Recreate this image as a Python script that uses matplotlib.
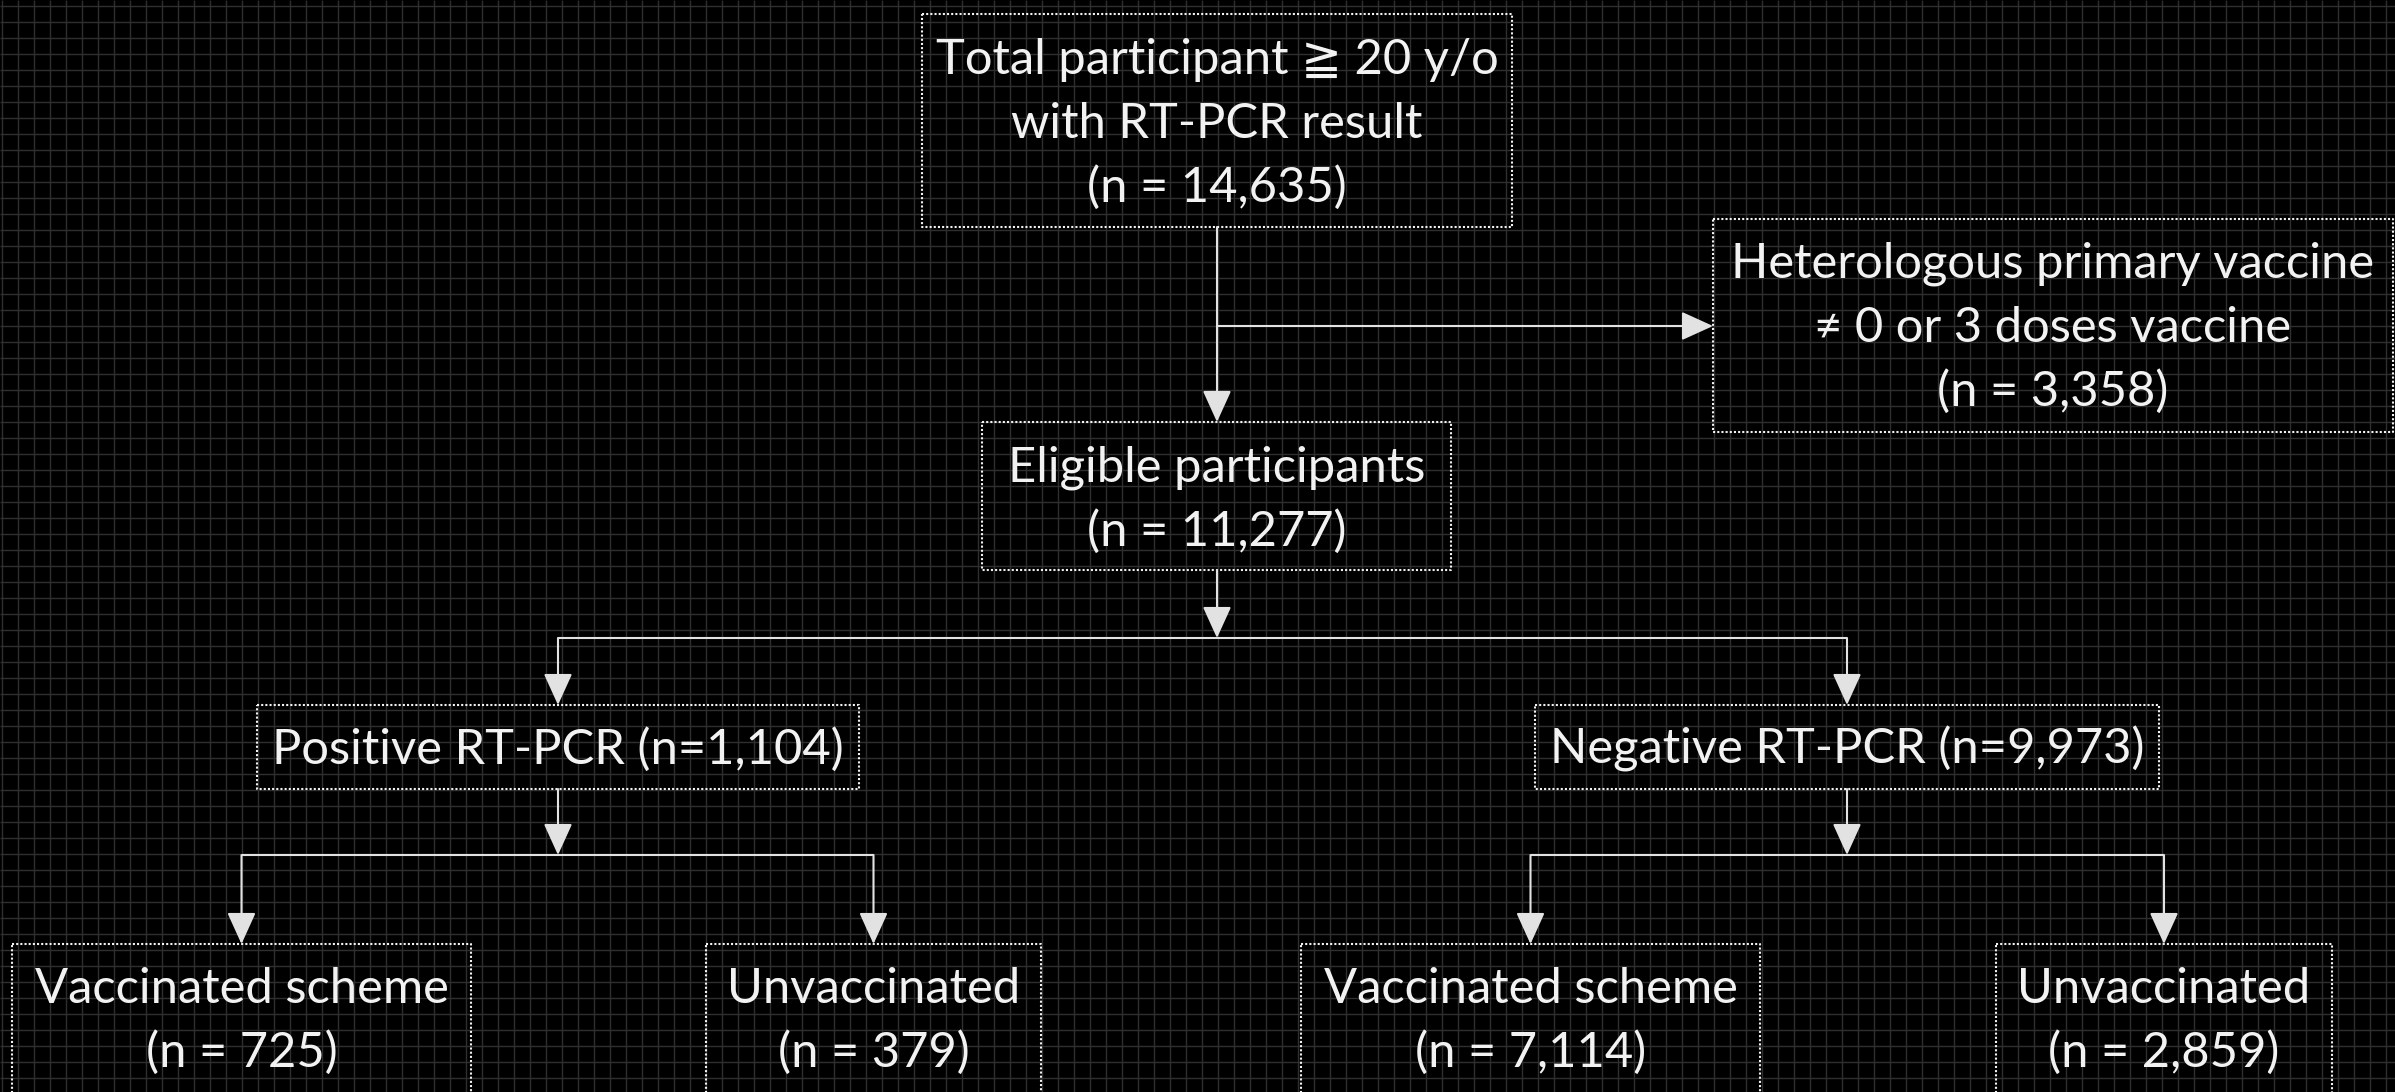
import matplotlib
matplotlib.use("Agg")
import matplotlib.pyplot as plt
import numpy as np

# box texts (top to bottom)
top_text = ["Total participant \u2267 20 y/o", "with RT-PCR result", "(n = 14,635)"]
excl_text = ["Heterologous primary vaccine", "\u2260 0 or 3 doses vaccine", "(n = 3,358)"]
elig_text = ["Eligible participants", "(n = 11,277)"]
pcr_groups = ["Positive RT-PCR", "Negative RT-PCR"]
pcr_counts = ["1,104", "9,973"]
vacc_groups = ["Vaccinated scheme", "Unvaccinated", "Vaccinated scheme", "Unvaccinated"]
vacc_counts = ["725", "379", "7,114", "2,859"]

# layout in pixels: (left, top, right, bottom)
W, H = 2395, 1092
box_top = (922, 14, 1512, 227)
box_excl = (1713, 219, 2393, 432)
box_elig = (982, 422, 1451, 570)
box_pcr = [(257, 705, 859, 789), (1535, 705, 2159, 789)]
box_vacc = [(12, 944, 471, 1110), (706, 944, 1041, 1110),
            (1301, 944, 1760, 1110), (1996, 944, 2332, 1110)]

FG = "#f2f2f2"
LINE = "#e2e2e2"
FONT = ["Lato", "DejaVu Sans"]
FS = 35.2

fig = plt.figure(figsize=(W / 100, H / 100), dpi=100, facecolor="black")
ax = fig.add_axes([0, 0, 1, 1])
ax.set_facecolor("black")
ax.set_xlim(0, W)
ax.set_ylim(H, 0)
ax.axis("off")

# background grid
ax.vlines(np.arange(1.7, W, 16), 0, H, color="#2f2f2f", lw=1.0, zorder=0)
ax.hlines(np.arange(6, H, 16), 0, W, color="#2f2f2f", lw=1.0, zorder=0)


def draw_box(b, lines, baseline0, step=64):
    l, t, r, btm = b
    ax.plot([l, r, r, l, l], [t, t, btm, btm, t], color=FG, lw=1.5,
            linestyle=(0, (1, 1)), zorder=2, solid_capstyle="butt")
    cx = (l + r) / 2
    for i, s in enumerate(lines):
        ax.text(cx, baseline0 + i * step, s, color=FG, fontsize=FS,
                family=FONT, ha="center", va="baseline", zorder=3)


def arrow(x0, y0, x1, y1):
    ax.annotate("", xy=(x1, y1), xytext=(x0, y0),
                arrowprops=dict(arrowstyle="-|>,head_length=1.1,head_width=0.5",
                                mutation_scale=18, color=LINE, lw=1.5,
                                shrinkA=0, shrinkB=0), zorder=4)


def line(xs, ys):
    ax.plot(xs, ys, color=LINE, lw=1.5, zorder=4, solid_capstyle="butt")


def cx(b):
    return (b[0] + b[2]) / 2


draw_box(box_top, top_text, 74)
draw_box(box_excl, excl_text, 278)
draw_box(box_elig, elig_text, 482)
for b, g, n in zip(box_pcr, pcr_groups, pcr_counts):
    draw_box(b, [f"{g} (n={n})"], 764)
for b, g, n in zip(box_vacc, vacc_groups, vacc_counts):
    draw_box(b, [g, f"(n = {n})"], 1003)

# top -> eligible, with exclusion branch
x_main = cx(box_top)
arrow(x_main, box_top[3], x_main, box_elig[1])
y_branch = 326
arrow(x_main, y_branch, box_excl[0], y_branch)

# eligible -> positive / negative
y_split = 638
arrow(x_main, box_elig[3], x_main, y_split)
line([cx(box_pcr[0]), cx(box_pcr[1])], [y_split, y_split])
for b in box_pcr:
    arrow(cx(b), y_split, cx(b), b[1])

# positive / negative -> vaccinated / unvaccinated
y_split2 = 855
for i, b in enumerate(box_pcr):
    kids = box_vacc[2 * i:2 * i + 2]
    arrow(cx(b), b[3], cx(b), y_split2)
    line([cx(kids[0]), cx(kids[1])], [y_split2, y_split2])
    for k in kids:
        arrow(cx(k), y_split2, cx(k), k[1])

fig.savefig("out.png", dpi=100, facecolor="black")
